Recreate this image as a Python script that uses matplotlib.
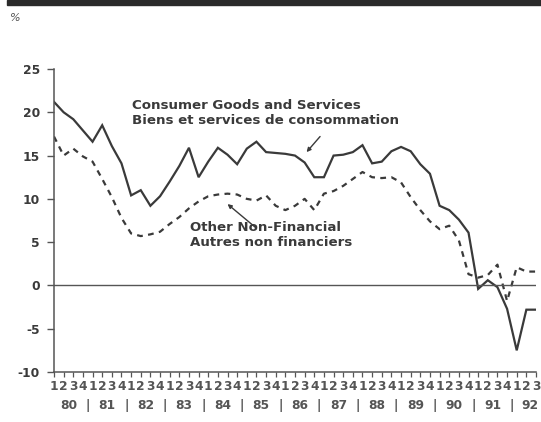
"""Quarterly growth: consumer goods and services vs other non-financial, 1980-1992."""
import matplotlib

matplotlib.use("Agg")
import matplotlib.pyplot as plt  # noqa: E402
from matplotlib.patches import Rectangle  # noqa: E402

plt.rcParams["axes.unicode_minus"] = False

# ---- data (one value per quarter, 1980Q1 .. 1992Q3) -------------------------
quarters = ["1", "2", "3", "4"] * 12 + ["1", "2", "3"]
years = ["80", "81", "82", "83", "84", "85", "86", "87", "88", "89", "90", "91", "92"]

consumer = [21.2, 20.0, 19.2, 17.9, 16.6, 18.5, 16.1, 14.1, 10.4, 11.0,
            9.2, 10.3, 12.0, 13.8, 15.9, 12.5, 14.3, 15.9, 15.1, 14.0,
            15.8, 16.6, 15.4, 15.3, 15.2, 15.0, 14.2, 12.5, 12.5, 15.0,
            15.1, 15.4, 16.2, 14.1, 14.3, 15.5, 16.0, 15.5, 14.0, 12.9,
            9.2, 8.7, 7.6, 6.1, -0.4, 0.6, -0.2, -2.7, -7.5, -2.8,
            -2.8]
other = [17.2, 15.0, 15.8, 14.9, 14.3, 12.3, 10.2, 7.8, 6.0, 5.7,
         5.9, 6.2, 7.1, 7.9, 8.9, 9.7, 10.3, 10.5, 10.6, 10.5,
         10.0, 9.8, 10.4, 9.2, 8.7, 9.2, 10.0, 8.7, 10.6, 10.9,
         11.5, 12.3, 13.1, 12.5, 12.4, 12.5, 11.9, 10.2, 8.7, 7.4,
         6.5, 6.9, 5.2, 1.3, 0.9, 1.2, 2.4, -1.8, 2.1, 1.6,
         1.6]

INK = "#3a3a3a"
GREY = "#555555"
FONT = "DejaVu Sans"

W, H = 541, 422
fig = plt.figure(figsize=(W / 100, H / 100), dpi=100)
fig.patch.set_facecolor("white")

# axes placed in pixel terms: left spine x=54, right x=536, top y=69, bottom y=372
ax = fig.add_axes([54 / W, (H - 372) / H, (536 - 54) / W, (372 - 69) / H])
ax.set_facecolor("none")

x = list(range(len(consumer)))
ax.plot(x, consumer, color=INK, lw=1.6, solid_joinstyle="miter")
ax.plot(x, other, color=INK, lw=1.6, linestyle=(0, (2.6, 2.4)))
ax.axhline(0, color=GREY, lw=1.0)

ax.set_xlim(0, len(consumer) - 1)
ax.set_ylim(-10, 25)
ax.set_yticks([25, 20, 15, 10, 5, 0, -5, -10])
ax.set_xticks(x)
ax.set_xticklabels(quarters)

for side in ("top", "right"):
    ax.spines[side].set_visible(False)
for side in ("left", "bottom"):
    ax.spines[side].set_color(GREY)
    ax.spines[side].set_linewidth(1.1)

ax.tick_params(axis="y", length=5, width=1.0, color=GREY, pad=5,
               labelsize=8.8, labelcolor=INK)
ax.tick_params(axis="x", length=3.5, width=0.9, color=GREY, pad=2,
               labelsize=8.8, labelcolor=GREY)
for lab in ax.get_xticklabels() + ax.get_yticklabels():
    lab.set_fontweight("bold")
    lab.set_family(FONT)

# year row under the quarter numbers
trans = ax.get_xaxis_transform()
for k, yr in enumerate(years):
    n = 3 if k == len(years) - 1 else 4
    ax.text(4 * k + (n - 1) / 2 + (0.4 if n == 3 else 0), -0.109, yr,
            transform=trans, ha="center", va="center", fontsize=8.8,
            fontweight="bold", color=GREY, family=FONT)
    if k > 0:
        ax.text(4 * k - 0.5, -0.109, "|", transform=trans, ha="center",
                va="center", fontsize=8.8, fontweight="bold", color=GREY,
                family=FONT)

# series labels with pointer arrows
label_kw = dict(fontsize=9.6, fontweight="bold", color=INK, family=FONT,
                linespacing=1.2, va="center", ha="left")
ax.annotate("Consumer Goods and Services\nBiens et services de consommation",
            xy=(26.2, 15.2), xytext=(8.1, 19.95), **label_kw)
ax.annotate("", xy=(26.2, 15.4), xytext=(27.6, 17.2),
            arrowprops=dict(arrowstyle="-|>", color=INK, lw=1.0,
                            mutation_scale=6, shrinkA=0, shrinkB=0))
ax.annotate("Other Non-Financial\nAutres non financiers",
            xy=(18, 9.5), xytext=(14.1, 5.8), **label_kw)
ax.annotate("", xy=(18.0, 9.4), xytext=(20.9, 6.7),
            arrowprops=dict(arrowstyle="-|>", color=INK, lw=1.0,
                            mutation_scale=6, shrinkA=0, shrinkB=0))

# scanned-page furniture: dark rule at the top and the unit mark
fig.patches.append(Rectangle((7 / W, 1 - 5 / H), 1, 5 / H, transform=fig.transFigure,
                             color="#2a2a2a", zorder=0))
fig.text(10 / W, 1 - 18 / H, "%", fontsize=8, color=GREY, family=FONT,
         style="italic", va="center", ha="left")

fig.savefig("out.png", dpi=100)
plt.close(fig)
